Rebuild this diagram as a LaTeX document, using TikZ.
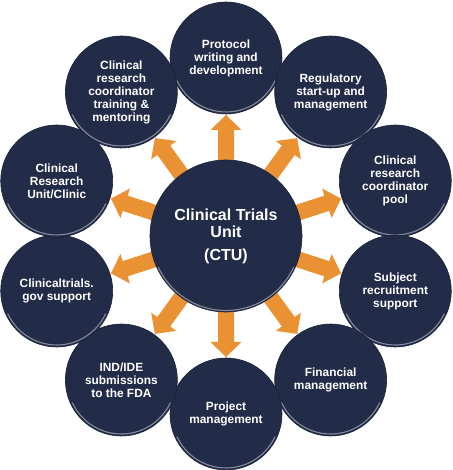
\documentclass[tikz,border=0pt]{standalone}
\usepackage{fontspec}
\setmainfont{Liberation Sans}
\usetikzlibrary{backgrounds}
\definecolor{navy}{HTML}{222B48}
\definecolor{navyedge}{HTML}{1A2138}
\definecolor{orng}{HTML}{EA9233}
\begin{document}
\begin{tikzpicture}[x=1pt,y=1pt,
  hub/.style={circle, fill=navy, draw=navyedge, line width=0.6pt, minimum size=152pt, inner sep=0pt,
    text=white, font=\bfseries\fontsize{16}{17.5}\selectfont, align=center},
  sat/.style={circle, fill=navy, draw=navyedge, line width=0.6pt, minimum size=112pt, inner sep=0pt,
    text=white, font=\bfseries\fontsize{11.9}{13}\selectfont, align=center},
  rim/.style={white, opacity=0.45, line width=1.1pt, line cap=round},
  blockarrow/.style={fill=orng}]
\useasboundingbox (0,0) rectangle (452,470);
\node[hub] (hub) at (226,234) {Clinical Trials\\Unit\\[5pt](CTU)};
\foreach \i/\a/\t in {
  1/90/{Protocol\\writing and\\development},
  2/54/{Regulatory\\start-up and\\management},
  3/18/{Clinical\\research\\coordinator\\pool},
  4/-18/{Subject\\recruitment\\support},
  5/-54/{Financial\\management},
  6/-90/{Project\\management},
  7/-126/{IND/IDE\\submissions\\to the FDA},
  8/-162/{Clinicaltrials.\\gov support},
  9/162/{Clinical\\Research\\Unit/Clinic},
  10/126/{Clinical\\research\\coordinator\\training \&\\mentoring}}{
  \node[sat] (s\i) at ([shift={(\a:178)}]hub.center) {\t};
  \draw[rim] ([shift={(205:54)}]s\i.center) arc[start angle=205, end angle=335, radius=54];
  \begin{scope}[on background layer]
    \fill[blockarrow, shift={(hub.center)}, rotate=\a]
      (66,-8) -- (106,-8) -- (106,-15.5) -- (121,0) -- (106,15.5) -- (106,8) -- (66,8) -- cycle;
  \end{scope}
}
\draw[rim] ([shift={(205:74.5)}]hub.center) arc[start angle=205, end angle=335, radius=74.5];
\end{tikzpicture}
\end{document}
